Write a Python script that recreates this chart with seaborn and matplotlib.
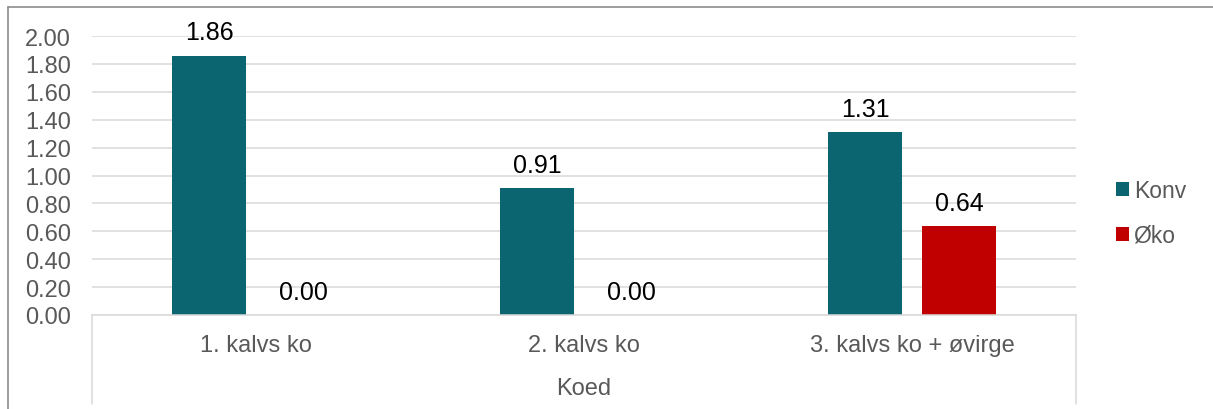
import matplotlib
matplotlib.use("Agg")
import matplotlib.pyplot as plt
import matplotlib.ticker as mticker
from matplotlib.lines import Line2D
import pandas as pd
import seaborn as sns

categories = ["1. kalvs ko", "2. kalvs ko", "3. kalvs ko + øvirge"]
series_names = ["Konv", "Øko"]
konv_values = [1.86, 0.91, 1.31]
oko_values = [0.00, 0.00, 0.64]
y_ticks = [0.0, 0.2, 0.4, 0.6, 0.8, 1.0, 1.2, 1.4, 1.6, 1.8, 2.0]
x_title = "Koed"

colors = {"Konv": "#0A6570", "Øko": "#C00000"}

df = pd.DataFrame({
    "Kategori": categories * 2,
    "Serie": [series_names[0]] * 3 + [series_names[1]] * 3,
    "Verdi": konv_values + oko_values,
})

sns.set_theme(style="white")
plt.rcParams["font.family"] = ["Liberation Sans", "DejaVu Sans"]

W, H = 1213, 410
fig = plt.figure(figsize=(W / 100, H / 100), dpi=100)
ax = fig.add_axes([92 / W, 1 - 316 / H, (1076 - 92) / W, (316 - 37) / H])

sns.barplot(data=df, x="Kategori", y="Verdi", hue="Serie", order=categories,
            hue_order=series_names, palette=colors, width=0.573, gap=0.21,
            linewidth=0, saturation=1, ax=ax)

ax.set_ylim(0, 2.0)
ax.set_xlim(-0.5, 2.5)
ax.set_yticks(y_ticks)
ax.yaxis.set_major_formatter(mticker.FormatStrFormatter("%.2f"))
ax.yaxis.grid(True, color="#D9D9D9", linewidth=1.1)
ax.set_axisbelow(True)
for s in ["left", "right", "top"]:
    ax.spines[s].set_visible(False)
ax.spines["bottom"].set_color("#D9D9D9")
ax.spines["bottom"].set_linewidth(1.1)

ax.tick_params(axis="y", length=0, pad=15, labelsize=17, labelcolor="#595959")
ax.tick_params(axis="x", length=0, pad=14, labelsize=17, labelcolor="#595959")
ax.set_ylabel("")
ax.set_xlabel(x_title, fontsize=17, color="#595959", labelpad=15)

for cont in ax.containers:
    ax.bar_label(cont, fmt="%.2f", padding=8, fontsize=18, color="black")

# category axis outer separators extending below
ext = (405 - 316) / (316 - 37)
for xa in [0, 1]:
    ax.add_line(Line2D([xa, xa], [0, -ext], transform=ax.transAxes,
                       color="#D9D9D9", linewidth=1.1, clip_on=False))

leg = ax.legend(loc="upper left", bbox_to_anchor=(1116 / W, 1 - 180 / H),
                bbox_transform=fig.transFigure, frameon=False, fontsize=16.5,
                handlelength=0.57, handleheight=0.57, handletextpad=0.2,
                labelspacing=0.95, borderaxespad=0, borderpad=0)
for t in leg.get_texts():
    t.set_color("#595959")

# outer chart border
fig.add_artist(Line2D([7.5 / W, 7.5 / W], [0, 1 - 8 / H], color="#8C8C8C", linewidth=1.2))
fig.add_artist(Line2D([7.5 / W, 1], [1 - 8 / H, 1 - 8 / H], color="#8C8C8C", linewidth=1.2))

fig.savefig("out.png", dpi=100)
